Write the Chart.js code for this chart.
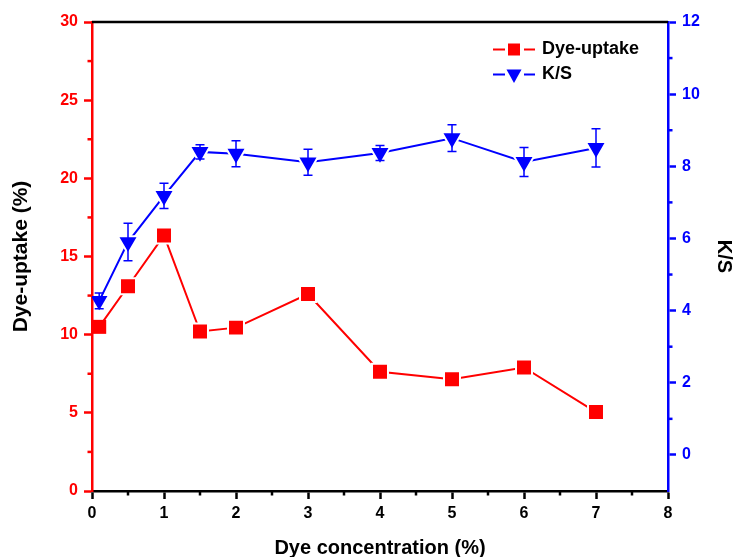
<!DOCTYPE html>
<html><head><meta charset="utf-8">
<script src="https://cdn.jsdelivr.net/npm/chart.js@4.4.1/dist/chart.umd.min.js"></script>
<style>html,body{margin:0;padding:0;background:#fff;}#wrap{width:733px;height:557px;}</style>
</head><body><div id="wrap"><canvas id="c" width="733" height="557"></canvas></div>
<script>
const concentration = [0.1, 0.5, 1, 1.5, 2, 3, 4, 5, 6, 7];
const dyeUptake = [10.5, 13.1, 16.35, 10.2, 10.45, 12.6, 7.63, 7.15, 7.9, 5.05];
const ksValues = [4.27, 5.9, 7.18, 8.4, 8.35, 8.11, 8.37, 8.78, 8.12, 8.51];
const ksErrors = [0.22, 0.52, 0.35, 0.2, 0.36, 0.36, 0.21, 0.37, 0.40, 0.53];
const xRange = [0, 8], xStep = 1;
const leftRange = [0, 30], leftStep = 5;
const rightRange = [-1, 12], rightStep = 2;
const seriesNames = ['Dye-uptake', 'K/S'];
const axisTitles = ['Dye concentration (%)', 'Dye-uptake (%)', 'K/S'];

const RED = '#ff0000', BLUE = '#0000ff', BLACK = '#000000';
const FONT = "'Liberation Sans', Arial, Helvetica, sans-serif";
Chart.defaults.font.family = FONT;

const frameAndMinor = {
  id: 'frameAndMinor',
  beforeDatasetsDraw(chart) {
    const ctx = chart.ctx, ca = chart.chartArea;
    ctx.save();
    ctx.strokeStyle = BLACK; ctx.lineWidth = 2.5;
    ctx.beginPath(); ctx.moveTo(ca.left, ca.top); ctx.lineTo(ca.right, ca.top); ctx.stroke();
    const x = chart.scales.x, y = chart.scales.y, y2 = chart.scales.y2;
    ctx.lineWidth = 2.5;
    ctx.strokeStyle = BLACK;
    for (let v = xRange[0] + xStep / 2; v < xRange[1]; v += xStep) {
      const px = x.getPixelForValue(v);
      ctx.beginPath(); ctx.moveTo(px, ca.bottom); ctx.lineTo(px, ca.bottom + 4.5); ctx.stroke();
    }
    ctx.strokeStyle = RED;
    for (let v = leftRange[0] + leftStep / 2; v < leftRange[1]; v += leftStep) {
      const py = y.getPixelForValue(v);
      ctx.beginPath(); ctx.moveTo(ca.left, py); ctx.lineTo(ca.left - 4.5, py); ctx.stroke();
    }
    ctx.strokeStyle = BLUE;
    for (let v = 1; v < rightRange[1]; v += rightStep) {
      const py = y2.getPixelForValue(v);
      ctx.beginPath(); ctx.moveTo(ca.right, py); ctx.lineTo(ca.right + 4.5, py); ctx.stroke();
    }
    ctx.restore();
  }
};

const errorBars = {
  id: 'errorBars',
  afterDatasetsDraw(chart) {
    const ctx = chart.ctx, x = chart.scales.x, y2 = chart.scales.y2;
    ctx.save();
    ctx.strokeStyle = BLUE; ctx.lineWidth = 1.5;
    for (let i = 0; i < concentration.length; i++) {
      const px = x.getPixelForValue(concentration[i]);
      const pt = y2.getPixelForValue(ksValues[i] + ksErrors[i]);
      const pb = y2.getPixelForValue(ksValues[i] - ksErrors[i]);
      ctx.beginPath();
      ctx.moveTo(px, pt); ctx.lineTo(px, pb);
      ctx.moveTo(px - 4.5, pt); ctx.lineTo(px + 4.5, pt);
      ctx.moveTo(px - 4.5, pb); ctx.lineTo(px + 4.5, pb);
      ctx.stroke();
    }
    ctx.restore();
  }
};

const customLegend = {
  id: 'customLegend',
  afterDraw(chart) {
    const ctx = chart.ctx, ca = chart.chartArea;
    const rows = [
      {y: ca.top + 27.5, color: RED, kind: 'rect', text: seriesNames[0]},
      {y: ca.top + 52.5, color: BLUE, kind: 'tri', text: seriesNames[1]}
    ];
    const x0 = ca.right - 175, x1 = ca.right - 133, xm = ca.right - 154, xt = ca.right - 126;
    ctx.save();
    rows.forEach(r => {
      ctx.strokeStyle = r.color; ctx.fillStyle = r.color; ctx.lineWidth = 2;
      ctx.beginPath();
      ctx.moveTo(x0, r.y); ctx.lineTo(xm - 9, r.y);
      ctx.moveTo(xm + 10, r.y); ctx.lineTo(x1, r.y);
      ctx.stroke();
      if (r.kind === 'rect') {
        ctx.fillRect(xm - 6, r.y - 6, 12, 12);
      } else {
        ctx.beginPath();
        ctx.moveTo(xm - 7.5, r.y - 5); ctx.lineTo(xm + 7.5, r.y - 5); ctx.lineTo(xm, r.y + 8.5);
        ctx.closePath(); ctx.fill();
      }
      ctx.fillStyle = BLACK;
      ctx.font = 'bold 18px ' + FONT;
      ctx.textBaseline = 'middle'; ctx.textAlign = 'left';
      ctx.fillText(r.text, xt, r.y);
    });
    ctx.restore();
  }
};

new Chart(document.getElementById('c'), {
  type: 'line',
  data: {
    datasets: [
      {
        label: seriesNames[0],
        data: concentration.map((c, i) => ({x: c, y: dyeUptake[i]})),
        yAxisID: 'y',
        borderColor: RED, backgroundColor: RED, borderWidth: 2,
        pointStyle: 'rect',
        pointRadius: c => c.dataIndex === 0 ? 9.9 : 11.3,
        pointBorderWidth: c => c.dataIndex === 0 ? 0 : 2,
        pointBorderColor: '#ffffff',
        pointBackgroundColor: RED,
        tension: 0
      },
      {
        label: seriesNames[1],
        data: concentration.map((c, i) => ({x: c, y: ksValues[i]})),
        yAxisID: 'y2',
        borderColor: BLUE, backgroundColor: BLUE, borderWidth: 2,
        pointStyle: 'triangle', pointRotation: 180,
        pointRadius: c => c.dataIndex === 0 ? 9.5 : 11.8,
        pointBorderWidth: c => c.dataIndex === 0 ? 0 : 2,
        pointBorderColor: '#ffffff',
        pointBackgroundColor: BLUE,
        tension: 0
      }
    ]
  },
  options: {
    responsive: false, animation: false, events: [], devicePixelRatio: 1,
    layout: {padding: {top: 22, left: 0, right: 0, bottom: 0}},
    plugins: {legend: {display: false}, tooltip: {enabled: false}},
    scales: {
      x: {
        type: 'linear', position: 'bottom', min: xRange[0], max: xRange[1],
        ticks: {stepSize: xStep, color: BLACK, font: {size: 16, weight: 'bold'}, padding: 5, maxRotation: 0},
        grid: {drawOnChartArea: false, drawTicks: true, tickLength: 8, tickWidth: 2.5, tickColor: BLACK},
        border: {color: BLACK, width: 2.5},
        title: {display: true, text: axisTitles[0], color: BLACK, font: {size: 20, weight: 'bold', lineHeight: 0.9}, padding: {top: 0, bottom: 0}},
        afterFit(s) { s.height = 66; }
      },
      y: {
        type: 'linear', position: 'left', min: leftRange[0], max: leftRange[1],
        ticks: {stepSize: leftStep, color: RED, font: {size: 16, weight: 'bold'}, padding: 6},
        grid: {drawOnChartArea: false, drawTicks: true, tickLength: 8, tickWidth: 2.5, tickColor: RED},
        border: {color: RED, width: 2.5},
        title: {display: true, text: axisTitles[1], color: BLACK, font: {size: 21, weight: 'bold', lineHeight: 1}, padding: {top: 10.5, bottom: 0}},
        afterFit(s) { s.width = 92; }
      },
      y2: {
        type: 'linear', position: 'right', min: rightRange[0], max: rightRange[1],
        ticks: {stepSize: rightStep, includeBounds: false, color: BLUE, font: {size: 16, weight: 'bold'}, padding: 6},
        grid: {drawOnChartArea: false, drawTicks: true, tickLength: 8, tickWidth: 2.5, tickColor: BLUE},
        border: {color: BLUE, width: 2.5},
        title: {display: true, text: axisTitles[2], color: BLACK, font: {size: 20, weight: 'bold', lineHeight: 0.9}, padding: {top: 0, bottom: 0}},
        afterFit(s) { s.width = 65; }
      }
    }
  },
  plugins: [frameAndMinor, errorBars, customLegend]
});
</script></body></html>
